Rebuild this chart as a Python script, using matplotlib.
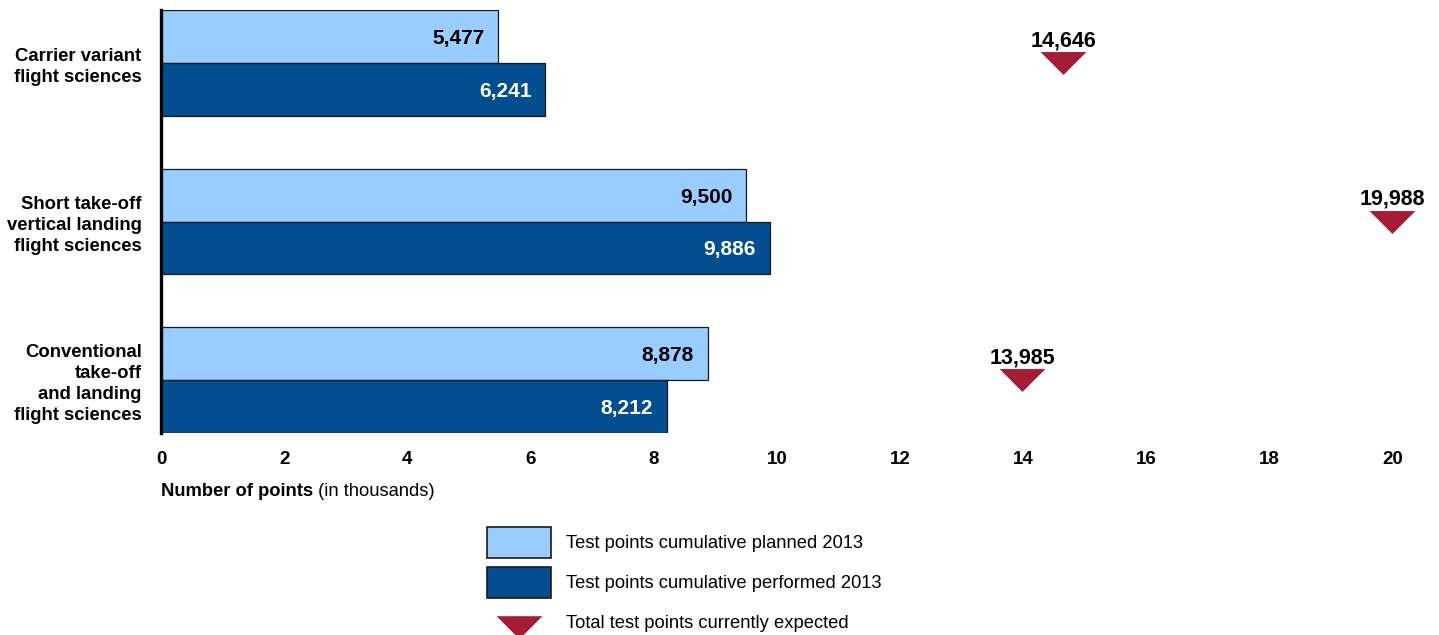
import matplotlib
matplotlib.use("Agg")
import matplotlib.pyplot as plt
from matplotlib.patches import Patch
from matplotlib.lines import Line2D
from matplotlib.path import Path

categories = ["Conventional\ntake-off\nand landing\nflight sciences",
              "Short take-off\nvertical landing\nflight sciences",
              "Carrier variant\nflight sciences"]
planned = [8878, 9500, 5477]
performed = [8212, 9886, 6241]
expected = [13985, 19988, 14646]
xticks = [0, 2, 4, 6, 8, 10, 12, 14, 16, 18, 20]

light = '#99CCFF'
dark = '#044D8F'
red = '#A51C36'

plt.rcParams['font.family'] = ['Liberation Sans', 'DejaVu Sans']

fig = plt.figure(figsize=(14.39, 6.35), dpi=100)
ax = fig.add_axes([161 / 1439, 1 - 433 / 635, (1393 - 161) / 1439, 423 / 635])

h = 0.333
pos = list(range(len(categories)))
ax.barh([p + h / 2 for p in pos], [v / 1000 for v in planned], height=h,
        color=light, edgecolor='#1a1a1a', linewidth=0.9)
ax.barh([p - h / 2 for p in pos], [v / 1000 for v in performed], height=h,
        color=dark, edgecolor='#1a1a1a', linewidth=0.9)

# triangle marker, twice as wide as tall
tri = Path([(-1, 0.5), (1, 0.5), (0, -0.5), (-1, 0.5)],
           [Path.MOVETO, Path.LINETO, Path.LINETO, Path.CLOSEPOLY])
# same triangle sitting a bit lower, for the legend row
tri_low = Path([(-1, 0.1), (1, 0.1), (0, -0.9), (-1, 0.1)],
               [Path.MOVETO, Path.LINETO, Path.LINETO, Path.CLOSEPOLY])
ax.plot([e / 1000 for e in expected], pos, linestyle='none', marker=tri,
        markersize=33, color=red, markeredgewidth=0, clip_on=False)

for p, v in zip(pos, planned):
    ax.annotate(f'{v:,}', xy=(v / 1000, p + h / 2), xytext=(-10, 0),
                textcoords='offset points', ha='right', va='center_baseline',
                fontsize=15, fontweight='bold', color='black')
for p, v in zip(pos, performed):
    ax.annotate(f'{v:,}', xy=(v / 1000, p - h / 2), xytext=(-10, 0),
                textcoords='offset points', ha='right', va='center_baseline',
                fontsize=15, fontweight='bold', color='white')
for p, v in zip(pos, expected):
    ax.annotate(f'{v:,}', xy=(v / 1000, p), xytext=(0, 12),
                textcoords='offset points', ha='center', va='baseline',
                fontsize=15.5, fontweight='bold', color='black',
                annotation_clip=False)

ax.set_xlim(0, 20)
ax.set_ylim(-h - 0.002, 2 + h + 0.002)
ax.set_xticks(xticks, [str(t) for t in xticks], fontweight='bold')
ax.set_yticks(pos, categories, fontweight='bold', linespacing=1.3)
ax.tick_params(axis='x', length=0, pad=13, labelsize=13.5)
ax.tick_params(axis='y', length=0, pad=14, labelsize=13.3)

for s in ['top', 'right', 'bottom']:
    ax.spines[s].set_visible(False)
ax.spines['left'].set_linewidth(2.4)
ax.spines['left'].set_color('black')

t1 = fig.text(161 / 1439, 1 - 492 / 635, 'Number of points', fontsize=13.2,
              fontweight='bold', va='center', ha='left')
ax.annotate(' (in thousands)', xy=(1, 0.5), xycoords=t1, va='center',
            ha='left', fontsize=13.2)

handles = [Patch(facecolor=light, edgecolor='#1a1a1a', linewidth=1.2),
           Patch(facecolor=dark, edgecolor='#1a1a1a', linewidth=1.2),
           Line2D([], [], linestyle='none', marker=tri_low, markersize=33,
                  color=red, markeredgewidth=0)]
labels = ['Test points cumulative planned 2013',
          'Test points cumulative performed 2013',
          'Total test points currently expected']
fig.legend(handles, labels, loc='upper left',
           bbox_to_anchor=(487 / 1439, 1 - 527 / 635), frameon=False,
           borderpad=0, borderaxespad=0, fontsize=13.2,
           handlelength=3.49, handleheight=2.225, handletextpad=0.82,
           labelspacing=0.49)

fig.savefig('out.png', dpi=100)
